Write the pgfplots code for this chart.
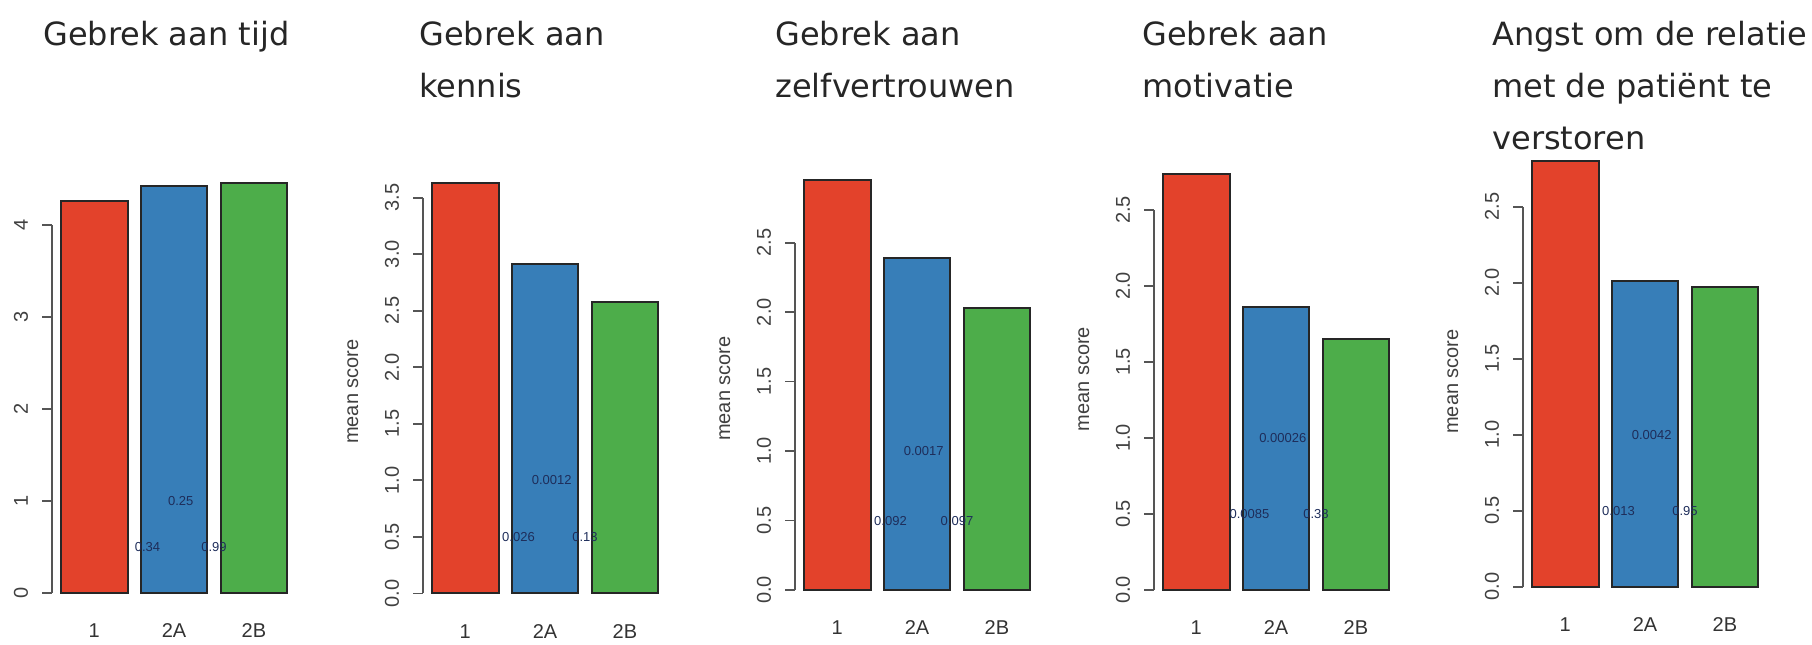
\documentclass[border=0pt]{standalone}
\usepackage{fontspec}
\setmainfont{Liberation Sans}
\newfontfamily\titlefont{DejaVu Sans}
\usepackage{pgfplots}
\pgfplotsset{compat=1.18}
\definecolor{barred}{RGB}{227,66,43}
\definecolor{barblue}{RGB}{55,126,184}
\definecolor{bargreen}{RGB}{77,173,74}
\definecolor{axgray}{RGB}{85,85,85}
\definecolor{pcol}{RGB}{30,45,90}
\tikzset{pv/.style={font=\fontsize{6.5}{7}\selectfont, text=pcol, inner sep=0pt}}
\pgfplotsset{
  rbar/.style={
    scale only axis, width=122.1pt,
    xmin=0.064, xmax=3.736, ymin=0, enlargelimits=false, clip=false,
    axis lines*=left,
    axis line style={-, axgray, line width=0.8pt},
    x axis line style={draw=none},
    xtick={0.7,1.9,3.1}, xticklabels={1,2A,2B},
    x tick style={draw=none},
    y tick style={axgray, line width=0.8pt},
    tick align=outside, major tick length=5pt,
    xticklabel style={anchor=center, yshift=-14pt, font=\fontsize{10}{12}\selectfont, text=black!80},
    yticklabel style={xshift=-10.5pt, rotate=90, anchor=center, font=\fontsize{10}{12}\selectfont, text=black!75},
    every axis plot/.append style={ybar, bar width=1, bar shift=0pt, draw=black!85, line width=1pt},
  },
  ml/.style={ylabel={mean score}, ylabel style={at={(axis description cs:-0.287,#1)}, rotate=0, anchor=center, font=\fontsize{10}{12}\selectfont, text=black!75}},
}
\begin{document}
\begin{tikzpicture}
\useasboundingbox (0,0) rectangle (906pt,322pt);
% Panel 1
\begin{axis}[rbar, at={(26pt,25.5pt)}, anchor=south west, height=184pt, ymax=4,
  ytick={0,1,2,3,4}, yticklabels={0,1,2,3,4}]
\addplot[fill=barred] coordinates {(0.7,4.26)};
\addplot[fill=barblue] coordinates {(1.9,4.42)};
\addplot[fill=bargreen] coordinates {(3.1,4.46)};
\node[pv] at (axis cs:1.5,0.5) {0.34};
\node[pv] at (axis cs:2.0,1.0) {0.25};
\node[pv] at (axis cs:2.5,0.5) {0.99};
\end{axis}
% Panel 2
\begin{axis}[rbar, ml=0.51, at={(211.5pt,25.35pt)}, anchor=south west, height=197.8pt, ymax=3.5,
  ytick={0,0.5,1,1.5,2,2.5,3,3.5}, yticklabels={0.0,0.5,1.0,1.5,2.0,2.5,3.0,3.5}]
\addplot[fill=barred] coordinates {(0.7,3.63)};
\addplot[fill=barblue] coordinates {(1.9,2.91)};
\addplot[fill=bargreen] coordinates {(3.1,2.575)};
\node[pv] at (axis cs:1.5,0.5) {0.026};
\node[pv] at (axis cs:2.0,1.0) {0.0012};
\node[pv] at (axis cs:2.5,0.5) {0.13};
\end{axis}
% Panel 3
\begin{axis}[rbar, ml=0.58, at={(397.5pt,27pt)}, anchor=south west, height=173.65pt, ymax=2.5,
  ytick={0,0.5,1,1.5,2,2.5}, yticklabels={0.0,0.5,1.0,1.5,2.0,2.5}]
\addplot[fill=barred] coordinates {(0.7,2.95)};
\addplot[fill=barblue] coordinates {(1.9,2.39)};
\addplot[fill=bargreen] coordinates {(3.1,2.03)};
\node[pv] at (axis cs:1.5,0.5) {0.092};
\node[pv] at (axis cs:2.0,1.0) {0.0017};
\node[pv] at (axis cs:2.5,0.5) {0.097};
\end{axis}
% Panel 4
\begin{axis}[rbar, ml=0.555, at={(577pt,27pt)}, anchor=south west, height=190pt, ymax=2.5,
  ytick={0,0.5,1,1.5,2,2.5}, yticklabels={0.0,0.5,1.0,1.5,2.0,2.5}]
\addplot[fill=barred] coordinates {(0.7,2.74)};
\addplot[fill=barblue] coordinates {(1.9,1.86)};
\addplot[fill=bargreen] coordinates {(3.1,1.65)};
\node[pv] at (axis cs:1.5,0.5) {0.0085};
\node[pv] at (axis cs:2.0,1.0) {0.00026};
\node[pv] at (axis cs:2.5,0.5) {0.38};
\end{axis}
% Panel 5
\begin{axis}[rbar, ml=0.54, at={(761.5pt,28.65pt)}, anchor=south west, height=190pt, ymax=2.5,
  ytick={0,0.5,1,1.5,2,2.5}, yticklabels={0.0,0.5,1.0,1.5,2.0,2.5}]
\addplot[fill=barred] coordinates {(0.7,2.80)};
\addplot[fill=barblue] coordinates {(1.9,2.01)};
\addplot[fill=bargreen] coordinates {(3.1,1.97)};
\node[pv] at (axis cs:1.5,0.5) {0.013};
\node[pv] at (axis cs:2.0,1.0) {0.0042};
\node[pv] at (axis cs:2.5,0.5) {0.95};
\end{axis}
% Titles
\begin{scope}[every node/.style={anchor=base west, inner sep=0pt, font=\titlefont\fontsize{16}{19}\selectfont, text=black!85}]
\node at (21.5pt,299pt) {Gebrek aan tijd};
\node at (209.5pt,299pt) {Gebrek aan};
\node at (209.5pt,273pt) {kennis};
\node at (387.5pt,299pt) {Gebrek aan};
\node at (387.5pt,273pt) {zelfvertrouwen};
\node at (571pt,299pt) {Gebrek aan};
\node at (571pt,273pt) {motivatie};
\node at (746pt,299pt) {Angst om de relatie};
\node at (746pt,273pt) {met de patiënt te};
\node at (746pt,247pt) {verstoren};
\end{scope}
\end{tikzpicture}
\end{document}
